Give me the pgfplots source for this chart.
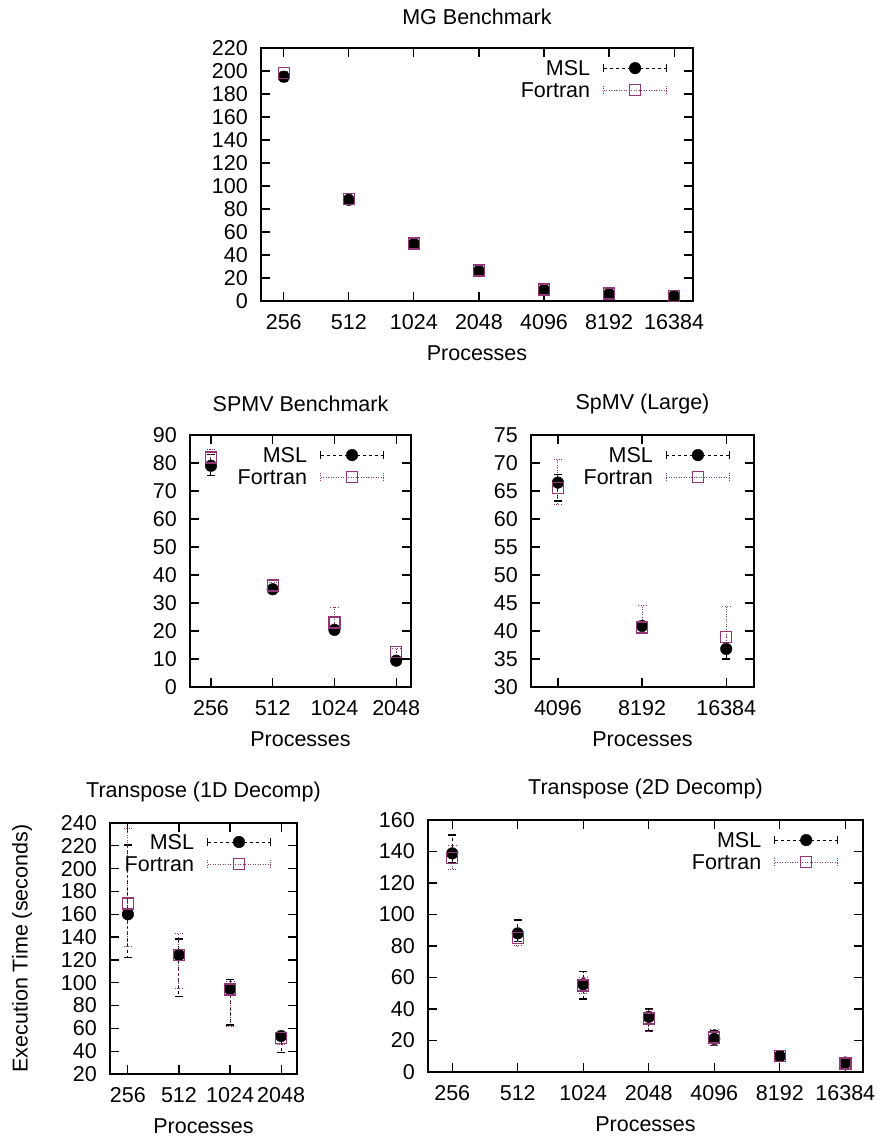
\documentclass[border=0pt]{standalone}
\usepackage{fontspec}
\setmainfont{Liberation Sans}
\usepackage{pgfplots}
\usepackage{pgfplotstable}
\pgfplotsset{compat=1.18}

\definecolor{fort}{RGB}{145,55,120}
\newcommand{\fz}{\fontsize{21.5}{25}\selectfont}

% x y plus minus
\pgfplotstableread{
x y ep em
0 195 3 4
1 88 1.5 1.5
2 49.6 1.5 1.5
3 26 1.5 1.5
4 9.6 1 1
5 6 1 1
6 4.3 0.8 0.8
}\mgmsl
\pgfplotstableread{
x y ep em
0 198 1.5 2
1 88.5 1 1
2 50 1 1
3 26.5 1 1
4 10 1 1
5 6.5 1 1
6 4.5 0.8 0.8
}\mgfort
\pgfplotstableread{
x y ep em
0 79 4 3.5
1 34.9 1 1
2 20.4 1 1
3 9.4 1 1
}\spmsl
\pgfplotstableread{
x y ep em
0 81.9 3 3
1 36.2 1 1
2 23 5.5 2.5
3 12.4 1.5 2
}\spfort
\pgfplotstableread{
x y ep em
0 66.5 1.5 3.3
1 40.9 0.6 1.4
2 36.8 1.2 1.8
}\splmsl
\pgfplotstableread{
x y ep em
0 65.5 5.2 3
1 40.6 3.9 1
2 38.9 5.4 1.5
}\splfort
\pgfplotstableread{
x y ep em
0 160 60.7 38
1 124.3 14 36.5
2 94.5 8 31.5
3 53.3 3 14.6
}\tamsl
\pgfplotstableread{
x y ep em
0 169.6 66 37.6
1 124.3 19 29
2 94 7 32
3 51.6 2 6
}\tafort
\pgfplotstableread{
x y ep em
0 138.8 11.7 6
1 88 8.5 5
2 55.7 8 9.4
3 35 5 9
4 21 5 4
5 10 3 3
6 6 2 3
}\tbmsl
\pgfplotstableread{
x y ep em
0 135.7 8.3 7
1 85 5 5
2 55 5 5
3 34 6 8
4 22 5 5
5 10 3 3
6 5.5 2 2.5
}\tbfort

\pgfplotsset{
  gp/.style={
    scale only axis, anchor=south west,
    axis line style={line width=1.2pt},
    every tick/.style={black, line width=1.2pt},
    major tick length=9pt,
    tick align=inside,
    ticklabel style={font=\fz},
    xticklabel style={anchor=center, inner sep=0pt, yshift=-21.5pt},
    yticklabel style={anchor=east, inner sep=0pt, xshift=-13pt},
    title style={font=\fz, at={(axis description cs:0.5,1)}, anchor=center, yshift=25pt},
    xlabel=Processes,
    every axis x label/.style={font=\fz, at={(axis description cs:0.5,0)}, anchor=center, yshift=-52pt},
    xtick={0,...,6},
    /pgf/number format/assume math mode=true,
    /pgf/number format/1000 sep={},
    legend plot pos=right,
    legend style={draw=none, fill=none, inner sep=0pt, outer sep=0pt,
      anchor=north east, font=\fz,
      nodes={anchor=east, inner sep=0pt, text height=15.5pt, text depth=0pt},
      row sep=6.5pt, column sep=13pt},
  },
  msl/.style={only marks, mark=*, mark size=5.8pt, black,
    legend image code/.code={
      \draw[black, line width=1pt, dash pattern=on 3pt off 3pt] (0pt,0pt) -- (63pt,0pt);
      \draw[black, line width=1pt] (0pt,-4pt) -- (0pt,4pt) (63pt,-4pt) -- (63pt,4pt);
      \fill[black] (31.5pt,0pt) circle (5.8pt);
    },
    error bars/.cd, y dir=both, y explicit,
    error bar style={line width=1pt, dash pattern=on 3pt off 3pt},
    error mark options={line width=1.2pt, mark size=4pt, solid, rotate=90}},
  fortran/.style={only marks, mark=square, mark size=5.5pt, fort,
    mark options={line width=1.4pt},
    legend image code/.code={
      \draw[fort, line width=1pt, dash pattern=on 1pt off 1.5pt] (0pt,0pt) -- (63pt,0pt);
      \draw[fort, line width=1pt, dash pattern=on 1pt off 1.5pt] (0pt,-4pt) -- (0pt,4pt) (63pt,-4pt) -- (63pt,4pt);
      \draw[fort, line width=1.4pt] (26pt,-5.5pt) rectangle (37pt,5.5pt);
    },
    error bars/.cd, y dir=both, y explicit,
    error bar style={line width=1pt, dash pattern=on 1pt off 1.5pt},
    error mark options={line width=1pt, mark size=4pt, dash pattern=on 1pt off 1.5pt, rotate=90}},
}

\begin{document}
\begin{tikzpicture}
\path[use as bounding box] (0pt,0pt) rectangle (880pt,1138pt);

% MG Benchmark
\begin{axis}[gp, at={(261pt,837pt)}, width=432pt, height=253pt,
  title={MG Benchmark},
  xmin=-0.35, xmax=6.29, ymin=0, ymax=220, ytick distance=20,
  xticklabels={256,512,1024,2048,4096,8192,16384},
  legend style={at={(rel axis cs:0.94,0.951)}}]
\addplot[msl] table[x=x, y=y, y error plus=ep, y error minus=em] {\mgmsl};
\addplot[fortran] table[x=x, y=y, y error plus=ep, y error minus=em] {\mgfort};
\legend{MSL,Fortran}
\end{axis}

% SPMV Benchmark
\begin{axis}[gp, at={(190pt,451pt)}, width=221pt, height=252pt,
  title={SPMV Benchmark},
  xmin=-0.34, xmax=3.24, ymin=0, ymax=90, ytick distance=10,
  xtick={0,...,3},
  xticklabels={256,512,1024,2048},
  legend style={at={(rel axis cs:0.878,0.951)}}]
\addplot[msl] table[x=x, y=y, y error plus=ep, y error minus=em] {\spmsl};
\addplot[fortran] table[x=x, y=y, y error plus=ep, y error minus=em] {\spfort};
\legend{MSL,Fortran}
\end{axis}

% SpMV (Large)
\begin{axis}[gp, at={(531pt,451pt)}, width=223pt, height=252pt,
  title={SpMV (Large)},
  xmin=-0.32, xmax=2.33, ymin=30, ymax=75, ytick distance=5,
  xtick={0,...,2},
  xticklabels={4096,8192,16384},
  legend style={at={(rel axis cs:0.892,0.951)}}]
\addplot[msl] table[x=x, y=y, y error plus=ep, y error minus=em] {\splmsl};
\addplot[fortran] table[x=x, y=y, y error plus=ep, y error minus=em] {\splfort};
\legend{MSL,Fortran}
\end{axis}

% Transpose (1D Decomp)
\begin{axis}[gp, at={(110pt,64pt)}, width=187pt, height=251pt,
  title={Transpose (1D Decomp)},
  ylabel={Execution Time (seconds)},
  every axis y label/.style={font=\fz, at={(axis description cs:-0.47,0.5)}, rotate=90, anchor=center},
  xmin=-0.35, xmax=3.31, ymin=20, ymax=240, ytick distance=20,
  xtick={0,...,3},
  xticklabels={256,512,1024,2048},
  legend style={at={(rel axis cs:0.861,0.955)}}]
\addplot[msl] table[x=x, y=y, y error plus=ep, y error minus=em] {\tamsl};
\addplot[fortran] table[x=x, y=y, y error plus=ep, y error minus=em] {\tafort};
\legend{MSL,Fortran}
\end{axis}

% Transpose (2D Decomp)
\begin{axis}[gp, at={(428pt,66pt)}, width=435pt, height=252pt,
  title={Transpose (2D Decomp)},
  xmin=-0.37, xmax=6.27, ymin=0, ymax=160, ytick distance=20,
  xticklabels={256,512,1024,2048,4096,8192,16384},
  legend style={at={(rel axis cs:0.943,0.951)}}]
\addplot[msl] table[x=x, y=y, y error plus=ep, y error minus=em] {\tbmsl};
\addplot[fortran] table[x=x, y=y, y error plus=ep, y error minus=em] {\tbfort};
\legend{MSL,Fortran}
\end{axis}
\end{tikzpicture}
\end{document}
